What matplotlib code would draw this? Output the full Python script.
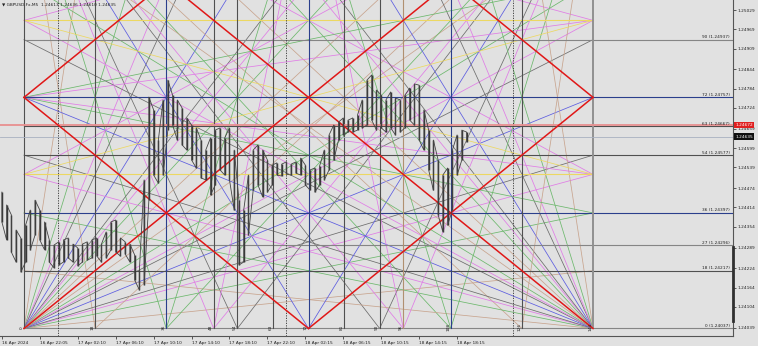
import matplotlib
matplotlib.use('Agg')
import matplotlib.pyplot as plt

# ---- chart data ----
title = "GBPUSD.Fx,M5  1.24613 1.24636 1.24610 1.24635"
time_labels = ['16 Apr 2024', '16 Apr 22:05', '17 Apr 02:10', '17 Apr 06:10', '17 Apr 10:10',
               '17 Apr 14:10', '17 Apr 18:10', '17 Apr 22:10', '18 Apr 02:15', '18 Apr 06:15',
               '18 Apr 10:15', '18 Apr 14:15', '18 Apr 18:15']
label_bars = [0, 48, 96, 144, 192, 240, 288, 336, 384, 432, 480, 528, 576]
price_ticks = [1.25029, 1.24969, 1.24909, 1.24844, 1.24784, 1.24724, 1.24659, 1.24599,
               1.24539, 1.24474, 1.24414, 1.24354, 1.24289, 1.24224, 1.24164, 1.24104, 1.24039]
day_sep_bars = [71, 359, 647]
bid, ask = 1.24635, 1.24672

# price range samples, one every 6 bars (high / low)
sample_bars = list(range(0, 589, 6))
highs = [1.24462, 1.24422, 1.24391, 1.24344, 1.24319, 1.24359, 1.24406, 1.24437, 1.24406, 1.24369,
         1.24313, 1.24297, 1.24307, 1.24313, 1.24319, 1.24300, 1.24288, 1.24300, 1.24307, 1.24313,
         1.24319, 1.24300, 1.24338, 1.24369, 1.24375, 1.24319, 1.24307, 1.24300, 1.24266, 1.24219,
         1.24500, 1.24758, 1.24718, 1.24624, 1.24749, 1.24811, 1.24764, 1.24749, 1.24724, 1.24693,
         1.24671, 1.24662, 1.24624, 1.24593, 1.24631, 1.24655, 1.24662, 1.24631, 1.24662, 1.24593,
         1.24437, 1.24406, 1.24515, 1.24593, 1.24609, 1.24593, 1.24562, 1.24546, 1.24553, 1.24549,
         1.24556, 1.24549, 1.24556, 1.24568, 1.24546, 1.24531, 1.24537, 1.24543, 1.24593, 1.24640,
         1.24671, 1.24680, 1.24693, 1.24686, 1.24693, 1.24702, 1.24749, 1.24811, 1.24827, 1.24780,
         1.24764, 1.24749, 1.24774, 1.24755, 1.24749, 1.24764, 1.24786, 1.24799, 1.24795, 1.24718,
         1.24655, 1.24624, 1.24562, 1.24515, 1.24537, 1.24593, 1.24640, 1.24655, 1.24649]
lows = [1.24369, 1.24313, 1.24275, 1.24244, 1.24213, 1.24244, 1.24282, 1.24328, 1.24313, 1.24282,
        1.24244, 1.24226, 1.24235, 1.24244, 1.24257, 1.24244, 1.24232, 1.24244, 1.24250, 1.24257,
        1.24263, 1.24244, 1.24257, 1.24282, 1.24275, 1.24263, 1.24269, 1.24244, 1.24188, 1.24157,
        1.24173, 1.24437, 1.24515, 1.24490, 1.24515, 1.24655, 1.24671, 1.24624, 1.24609, 1.24593,
        1.24562, 1.24537, 1.24506, 1.24500, 1.24453, 1.24484, 1.24531, 1.24515, 1.24500, 1.24406,
        1.24235, 1.24244, 1.24328, 1.24468, 1.24484, 1.24447, 1.24462, 1.24484, 1.24515, 1.24512,
        1.24518, 1.24515, 1.24521, 1.24515, 1.24484, 1.24468, 1.24462, 1.24484, 1.24500, 1.24531,
        1.24562, 1.24624, 1.24640, 1.24649, 1.24649, 1.24655, 1.24662, 1.24671, 1.24686, 1.24655,
        1.24662, 1.24649, 1.24662, 1.24640, 1.24649, 1.24662, 1.24686, 1.24671, 1.24624, 1.24593,
        1.24531, 1.24468, 1.24391, 1.24338, 1.24359, 1.24406, 1.24515, 1.24562, 1.24618]

# gann square (units: 5 bars x 1 pip)
gann_start_bar = 28
bars_per_unit = 5
gann_base = 1.24037
gann_size = 144
level_vals = [0, 18, 27, 36, 54, 63, 72, 90]
level_prices = [1.24037, 1.24217, 1.24296, 1.24397, 1.24577, 1.24667, 1.24757, 1.24937]
yellow_levels = [48, 96]
time_vals = [0, 18, 36, 48, 54, 63, 72, 81, 90, 96, 108, 126, 144]
divisions = [18, 36, 48, 54, 72, 90, 96, 108, 126]
mid_divisions = [36, 48, 96, 108]
third_divisions = [48, 96]
scale_marker = (1.24290, 1.24060)

# ---- styles ----
BG = '#e1e1e1'
GRID_DARK = '#505050'
NAVY = '#2b3f8c'
div_color = {18: '#c8a48e', 126: '#c8a48e', 36: '#6cb86c', 108: '#6cb86c',
             48: '#e07ce6', 96: '#e07ce6', 54: '#6c6c6c', 90: '#6c6c6c', 72: '#5c5ce0'}
YELLOW = '#ecd862'
FS = 3.1


def bx(u):
    return gann_start_bar + u * bars_per_unit


def py(v):
    return gann_base + v * 0.0001


fig = plt.figure(figsize=(7.58, 3.46), dpi=100, facecolor=BG)
ax = fig.add_axes([0, 10 / 346, 733 / 758, 336 / 346], facecolor=BG)
ax.set_xlim(-2.37, 925.1)
ax.set_ylim(1.240136, 1.250604)

# fan lines
S = gann_size
segs = []
for cu in (0, S):
    ou = S - cu
    for d in divisions:
        segs.append((cu, 0, ou, d, div_color[d]))   # bottom corners -> opposite side
        segs.append((cu, 0, d, S, div_color[d]))    # bottom corners -> top side
        segs.append((cu, S, d, 0, div_color[d]))    # top corners -> bottom side
    for d in third_divisions:
        segs.append((cu, S, ou, d, div_color[d]))
for d in mid_divisions:
    segs.append((0, 72, S, d, div_color[d]))        # left middle -> right side
    segs.append((72, S, d, 0, div_color[d]))        # top middle -> bottom side
segs.append((0, 48, S, 96, YELLOW))
segs.append((0, 96, S, 48, YELLOW))
for (u1, v1, u2, v2, c) in segs:
    ax.plot([bx(u1), bx(u2)], [py(v1), py(v2)], color=c, lw=0.55, zorder=2)

# red diagonals and diamond
red_lines = [(0, 72, 72, 144), (0, 72, 72, 0), (72, 0, 144, 72), (144, 72, 72, 144),
             (0, 0, 144, 144), (0, 144, 144, 0)]
for (u1, v1, u2, v2) in red_lines:
    ax.plot([bx(u1), bx(u2)], [py(v1), py(v2)], color='#e01818', lw=1.1, zorder=4)

# grid of the square
for v, p in zip(level_vals, level_prices):
    c = NAVY if v in (36, 72) else ('#858585' if v in (0, 27, 90) else GRID_DARK)
    ax.plot([bx(0), 925], [p, p], color=c, lw=0.8, zorder=3)
    ax.text(921, p + 0.00002, f"{v} ({p:.5f})", fontsize=FS, ha='right', va='bottom',
            color='#202020', zorder=6)
for v in yellow_levels:
    ax.plot([bx(0), bx(S)], [py(v), py(v)], color=YELLOW, lw=0.8, zorder=3)
for u in time_vals:
    c = NAVY if u in (36, 72, 108) else ('#b09070' if u == 96 else GRID_DARK)
    lw = 0.8
    if u == S:
        c, lw = '#909090', 1.4
    ax.plot([bx(u), bx(u)], [py(0), 1.2506], color=c, lw=lw, zorder=3)
    ax.text(bx(u) - 3.2, py(0) + 0.00004, str(u), fontsize=FS, rotation=90,
            ha='center', va='center', color='#202020', zorder=6)
for b in day_sep_bars:
    ax.axvline(b, color='#303030', lw=0.6, ls=(0, (1.5, 1.5)), zorder=3)

# bid / ask lines
ax.axhline(ask, color='#e89090', lw=1.3, zorder=3)
ax.axhline(bid, color='#a8b0c0', lw=0.6, zorder=3)

# price bars
ax.vlines(sample_bars, lows, highs, color='#383838', lw=1.05, zorder=5)
xs, ys = [], []
for i, (b, h, l) in enumerate(zip(sample_bars, highs, lows)):
    xs += [b, b]
    ys += [h, l] if i % 2 == 0 else [l, h]
ax.plot(xs, ys, color='#444444', lw=0.6, zorder=5)

# axes
for s in ['top', 'left']:
    ax.spines[s].set_visible(False)
for s in ['right', 'bottom']:
    ax.spines[s].set_color('#555555')
    ax.spines[s].set_linewidth(0.8)
ax.plot([1.0, 1.0], scale_marker, transform=ax.get_yaxis_transform(), color='#303030',
        lw=2.0, clip_on=False, zorder=6)
ax.yaxis.tick_right()
ax.set_yticks(price_ticks)
ax.set_yticklabels([f"{t:.5f}" for t in price_ticks])
ax.set_xticks(label_bars)
ax.set_xticklabels(time_labels, ha='left')
ax.tick_params(axis='both', labelsize=FS, length=2, width=0.5, pad=1.5, colors='#202020')

# price tags on the scale
ax.text(1.0035, ask, f"{ask:.5f}", transform=ax.get_yaxis_transform(), fontsize=FS,
        color='white', va='center', ha='left', zorder=7,
        bbox=dict(boxstyle='square,pad=0.25', fc='#e02020', ec='none'))
ax.text(1.0035, bid, f"{bid:.5f}", transform=ax.get_yaxis_transform(), fontsize=FS,
        color='white', va='center', ha='left', zorder=7,
        bbox=dict(boxstyle='square,pad=0.25', fc='#101010', ec='none'))

fig.text(2 / 758, 1 - 5 / 346, "\u25bc " + title, fontsize=FS, va='center', ha='left', color='#202020')

fig.savefig('out.png', dpi=100, facecolor=BG)
